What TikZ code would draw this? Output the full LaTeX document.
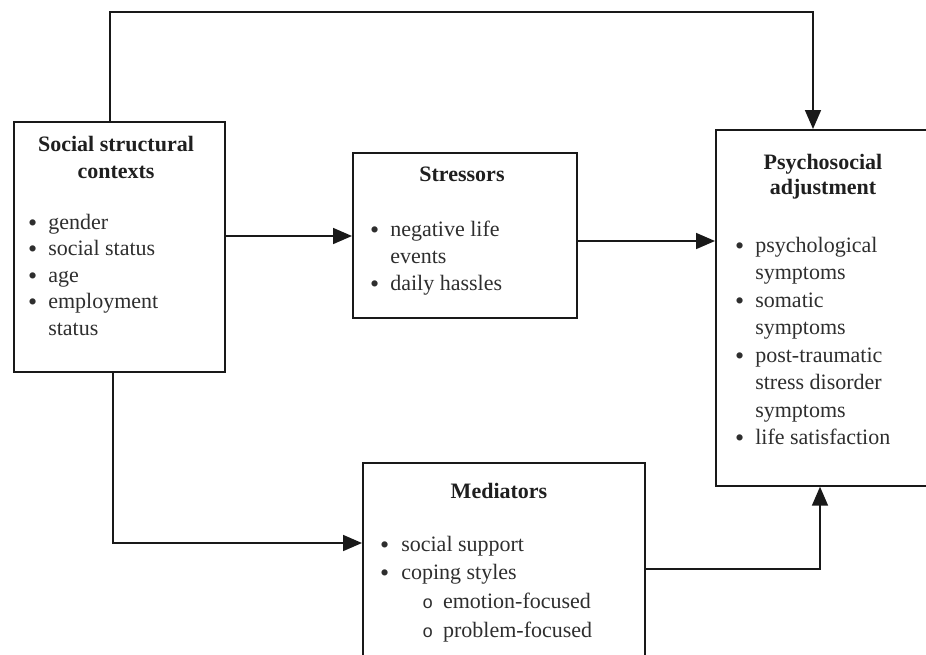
\documentclass[tikz,border=0pt]{standalone}
\usepackage{fontspec}
\setmainfont{Liberation Serif}
\newfontfamily\bulmono{Liberation Mono}
\usetikzlibrary{arrows.meta}
\tikzset{
  box/.style={draw=black!90, line width=1.7pt, rectangle, inner sep=0pt, anchor=north west},
  conn/.style={draw=black!90, line width=1.7pt, -{Triangle[length=19pt,width=16pt]}},
  title/.style={anchor=base, inner sep=0pt, text=black!88, font=\fontsize{22}{26}\selectfont\bfseries, align=center},
  items/.style={anchor=base west, inner sep=0pt, text=black!82},
}
\newcommand{\blt}{\raisebox{-2pt}{\fontsize{26}{22}\selectfont\textbullet}}
\newcommand{\subblt}{\hspace{21pt}{\bulmono\fontsize{18}{20}\selectfont o}\hspace{10pt}}
\begin{document}
\begin{tikzpicture}[x=1pt,y=-1pt]
\useasboundingbox (0,0) rectangle (926,654);
\begin{scope}
\clip (0,0) rectangle (926,654);
% boxes
\node[box, minimum width=211pt, minimum height=250pt] (soc) at (13,121) {};
\node[box, minimum width=224pt, minimum height=165pt] (str) at (352,152) {};
\node[box, minimum width=230pt, minimum height=356pt] (psy) at (715,129) {};
\node[box, minimum width=282pt, minimum height=220pt] (med) at (362,462) {};

% titles
\node[title] (socT1) at (116,151) {Social structural};
\node[title] (socT2) at (116,178) {contexts};
\node[title] (strT) at (462,181) {Stressors};
\node[title] (psyT1) at (823,169) {Psychosocial};
\node[title] (psyT2) at (823,194) {adjustment};
\node[title] (medT) at (499,498) {Mediators};

% lists
\node[items] (socL) at (28,229) {\fontsize{22}{26.6}\selectfont
  \begin{tabular}[t]{@{}l@{\hspace{11pt}}l@{}}
  \blt & gender\\ \blt & social status\\ \blt & age\\ \blt & employment\\ & status
  \end{tabular}};
\node[items] (strL) at (370,236) {\fontsize{22}{27.3}\selectfont
  \begin{tabular}[t]{@{}l@{\hspace{11pt}}l@{}}
  \blt & negative life\\ & events\\ \blt & daily hassles
  \end{tabular}};
\node[items] (psyL) at (735,252) {\fontsize{22}{27.5}\selectfont
  \begin{tabular}[t]{@{}l@{\hspace{11pt}}l@{}}
  \blt & psychological\\ & symptoms\\ \blt & somatic\\ & symptoms\\ \blt & post-traumatic\\ & stress disorder\\ & symptoms\\ \blt & life satisfaction
  \end{tabular}};
\node[items] (medL) at (380,551) {\fontsize{22}{28.7}\selectfont
  \begin{tabular}[t]{@{}l@{\hspace{12pt}}l@{}}
  \blt & social support\\ \blt & coping styles\\
   & \subblt emotion-focused\\
   & \subblt problem-focused
  \end{tabular}};

% connector coordinates
\coordinate (topL) at (110,12);
\coordinate (topR) at (813,12);
\coordinate (y1) at (0,236);
\coordinate (y2) at (0,241);
\coordinate (bx) at (113,0);
\coordinate (y3) at (0,543);
\coordinate (y4) at (0,569);
\coordinate (rx) at (820,0);

\draw[conn] (soc.north -| topL) -- (topL) -- (topR) -- (psy.north -| topR);
\draw[conn] (soc.east |- y1) -- (str.west |- y1);
\draw[conn] (str.east |- y2) -- (psy.west |- y2);
\draw[conn] (soc.south -| bx) |- (med.west |- y3);
\draw[conn] (med.east |- y4) -| (psy.south -| rx);
\end{scope}
\end{tikzpicture}
\end{document}
